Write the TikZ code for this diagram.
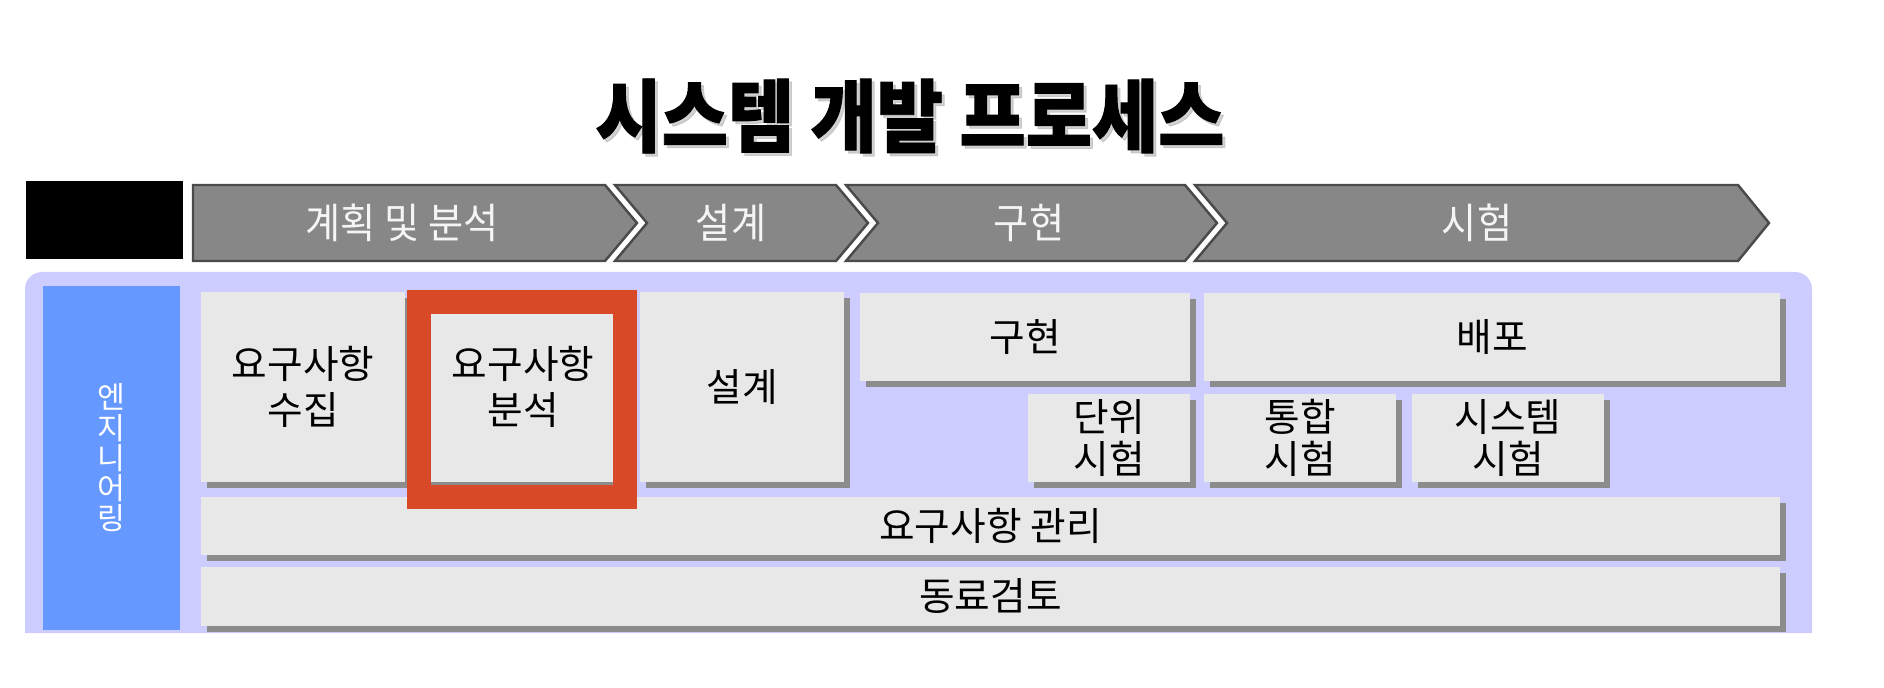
\documentclass[tikz,border=0pt]{standalone}
\usepackage{fontspec}
\setmainfont{Noto Sans CJK KR}
\newfontfamily\titlefont[FakeStretch=0.91, BoldFeatures={FakeBold=1.2}]{Noto Sans CJK KR}
\newfontfamily\phasefont[FakeStretch=0.92]{Noto Sans CJK KR}
\usepackage{xcolor}
\usepackage{tikz}
\usetikzlibrary{shadows}

\definecolor{phasegray}{HTML}{878787}
\definecolor{phaseline}{HTML}{4A4A4A}
\definecolor{panelbg}{HTML}{CCCCFF}
\definecolor{sidebarblue}{HTML}{6699FF}
\definecolor{boxgray}{HTML}{E8E8E8}
\definecolor{shadegray}{HTML}{8C8C8C}
\definecolor{framered}{HTML}{D84A27}

\begin{document}
\begin{tikzpicture}[
  x=0.01cm, y=-0.01cm,
  box/.style   = {fill=boxgray, inner sep=0pt, align=center,
                  font=\fontsize{11}{13.2}\selectfont,
                  drop shadow={shadow xshift=0.06cm, shadow yshift=-0.06cm,
                               fill=shadegray, opacity=1}},
  sbox/.style  = {box, font=\fontsize{11}{11.8}\selectfont},
  phase/.style = {fill=phasegray, draw=phaseline, line width=0.7pt},
  plabel/.style = {text=gray!8, font=\phasefont\fontsize{11.8}{12}\selectfont},
  redframe/.style = {draw=framered, line width=0.24cm, inner sep=0pt}
]
\useasboundingbox (0,0) rectangle (1884,688);

% title
\node[text=gray!60, opacity=0.6, font=\titlefont\bfseries\fontsize{22.5}{24}\selectfont]
  (titleshade) at (913,119) {시스템 개발 프로세스};
\node[font=\titlefont\bfseries\fontsize{22.5}{24}\selectfont]
  (title) at (910,116) {시스템 개발 프로세스};

% phase bar
\fill (26,181) rectangle (183,259);
\draw[phase] (193,185) -- (605,185) -- (637,223) -- (605,261) -- (193,261) -- cycle;
\draw[phase] (615,185) -- (836,185) -- (868,223) -- (836,261) -- (615,261) -- (647,223) -- cycle;
\draw[phase] (846,185) -- (1185,185) -- (1217,223) -- (1185,261) -- (846,261) -- (878,223) -- cycle;
\draw[phase] (1195,185) -- (1738,185) -- (1769,223) -- (1738,261) -- (1195,261) -- (1227,223) -- cycle;
\node[plabel] (plan)  at (402,223)  {계획 및 분석};
\node[plabel] (dsgn)  at (731,223)  {설계};
\node[plabel] (impl)  at (1029,223) {구현};
\node[plabel] (test)  at (1477,223) {시험};

% engineering panel
\fill[panelbg] (25,633) [rounded corners=0.17cm] -- (25,272) -- (1812,272)
  [sharp corners] -- (1812,633) -- cycle;
\node[fill=sidebarblue, text=white, inner sep=0pt, align=center,
      minimum width=1.37cm, minimum height=3.44cm,
      font=\fontsize{8.6}{8.6}\selectfont]
  (eng) at (111.5,458) {엔\\지\\니\\어\\링};

\node[box, minimum width=2.04cm, minimum height=1.90cm] (gather) at (303,387) {요구사항\\수집};
\node[box, minimum width=2.04cm, minimum height=1.90cm] (analyze) at (523,387) {요구사항\\분석};
\node[box, minimum width=2.04cm, minimum height=1.90cm] (design) at (742,387) {설계};
\node[box, minimum width=3.30cm, minimum height=0.88cm] (build) at (1025,337) {구현};
\node[box, minimum width=5.76cm, minimum height=0.88cm] (deploy) at (1492,337) {배포};
\node[sbox, minimum width=1.62cm, minimum height=0.87cm] (unit) at (1109,438) {단위\\시험};
\node[sbox, minimum width=1.92cm, minimum height=0.87cm] (integ) at (1300,438) {통합\\시험};
\node[sbox, minimum width=1.92cm, minimum height=0.87cm] (systest) at (1508,438) {시스템\\시험};
\node[box, minimum width=15.79cm, minimum height=0.58cm] (reqmgmt) at (990.5,526) {요구사항 관리};
\node[box, minimum width=15.79cm, minimum height=0.59cm] (review) at (990.5,596.5) {동료검토};

% highlight
\node[redframe, minimum width=2.06cm, minimum height=1.95cm] (focus) at (522,399.5) {};
\end{tikzpicture}
\end{document}
